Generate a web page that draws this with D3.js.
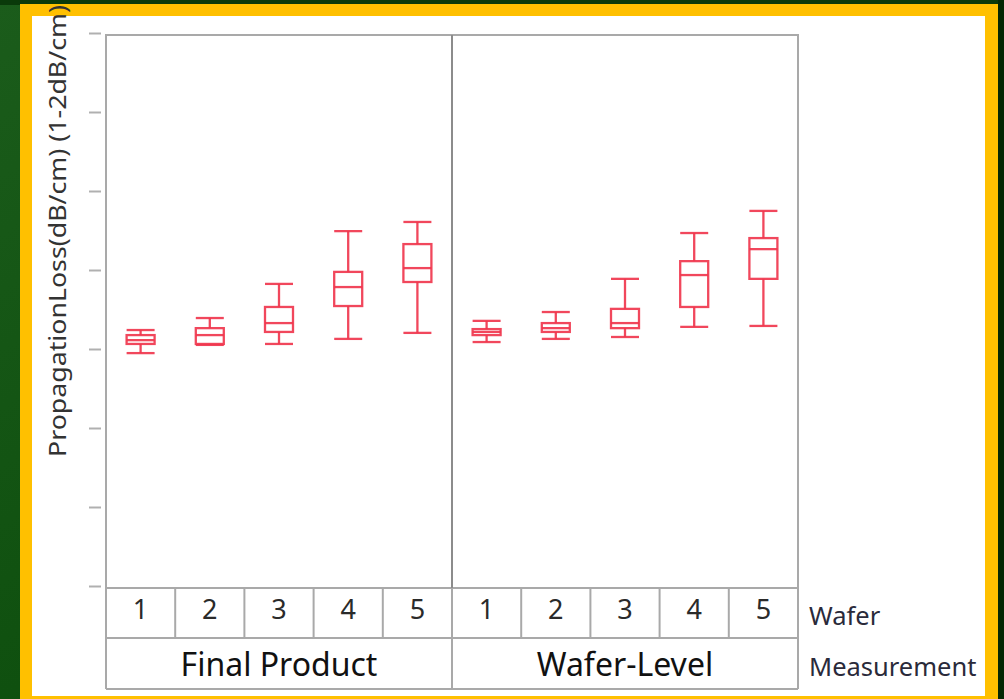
<!DOCTYPE html>
<html>
<head>
<meta charset="utf-8">
<script src="https://cdn.jsdelivr.net/npm/d3@7"></script>
<style>
  html, body { margin: 0; padding: 0; background: #0c440c; }
  svg { display: block; }
  text { font-family: "Noto Sans", "Open Sans", sans-serif; }
</style>
</head>
<body>
<svg id="chart" width="1004" height="699"></svg>
<script>
// Grouping levels on the x axis
const measurements = ["Final Product", "Wafer-Level"];
const wafers = ["1", "2", "3", "4", "5"];

// Five-number summaries per wafer: [min, Q1, median, Q3, max] in dB/cm
const finalProductStats = [
  [1.237, 1.266, 1.278, 1.294, 1.310],
  [1.263, 1.266, 1.294, 1.316, 1.348],
  [1.266, 1.304, 1.332, 1.383, 1.456],
  [1.282, 1.386, 1.446, 1.494, 1.623],
  [1.301, 1.462, 1.506, 1.582, 1.652]
];
const waferLevelStats = [
  [1.272, 1.294, 1.304, 1.313, 1.339],
  [1.282, 1.304, 1.316, 1.332, 1.367],
  [1.288, 1.316, 1.332, 1.377, 1.472],
  [1.320, 1.383, 1.484, 1.528, 1.617],
  [1.323, 1.472, 1.566, 1.601, 1.687]
];

// Unlabelled y-axis ticks
const yTicks = [0.5, 0.75, 1.0, 1.25, 1.5, 1.75, 2.0, 2.25];

const svg = d3.select("#chart");
const W = 1004, H = 699;

// Slide background: dark green field with a yellow frame around a white panel
const defs = svg.append("defs");
const grad = defs.append("linearGradient").attr("id", "bg").attr("x1", "0").attr("x2", "1").attr("y1", "0").attr("y2", "1");
grad.append("stop").attr("offset", "0").attr("stop-color", "#1b5c1b");
grad.append("stop").attr("offset", "0.5").attr("stop-color", "#0f500f");
grad.append("stop").attr("offset", "1").attr("stop-color", "#043004");
svg.append("rect").attr("width", W).attr("height", H).attr("fill", "url(#bg)");
svg.append("rect").attr("x", 0).attr("y", 0).attr("width", W).attr("height", 5).attr("fill", "#0a3a0a");
svg.append("rect").attr("x", 998).attr("y", 0).attr("width", 6).attr("height", H).attr("fill", "#032703");
svg.append("rect").attr("x", 20).attr("y", 4).attr("width", 978).attr("height", 700).attr("fill", "#ffc000");
svg.append("rect").attr("x", 32).attr("y", 16).attr("width", 953).attr("height", 680).attr("fill", "#ffffff");

// Plot geometry
const plotLeft = 106, plotRight = 798, plotTop = 35, plotBottom = 588;
const waferRowBottom = 638, measRowBottom = 689;
const frameColor = "#a9a9a9";

const xOuter = d3.scaleBand().domain(measurements).range([plotLeft, plotRight]).padding(0);
const xInner = d3.scaleBand().domain(wafers).range([0, xOuter.bandwidth()]).padding(0);
const y = d3.scaleLinear().domain([0.5, 2.25]).range([586, 33]);

// Y axis ticks (no labels)
const yAxis = svg.append("g")
  .attr("transform", `translate(101,0)`)
  .call(d3.axisLeft(y).tickValues(yTicks).tickFormat("").tickSize(12).tickSizeOuter(0));
yAxis.select(".domain").remove();
yAxis.selectAll(".tick line").attr("stroke", "#b0b0b0").attr("stroke-width", 2);

// Plot frame and panel divider
svg.append("rect")
  .attr("x", plotLeft).attr("y", plotTop)
  .attr("width", plotRight - plotLeft).attr("height", plotBottom - plotTop)
  .attr("fill", "none").attr("stroke", frameColor).attr("stroke-width", 2);
svg.append("line")
  .attr("x1", xOuter("Wafer-Level")).attr("x2", xOuter("Wafer-Level"))
  .attr("y1", plotTop).attr("y2", plotBottom)
  .attr("stroke", "#8c8c8c").attr("stroke-width", 2);

// Box plots
const boxColor = "#f0374e";
const boxW = 28;
const series = [
  { name: "Final Product", stats: finalProductStats },
  { name: "Wafer-Level", stats: waferLevelStats }
];
series.forEach(s => {
  const g = svg.append("g").attr("transform", `translate(${xOuter(s.name)},0)`);
  const boxes = g.selectAll("g.box").data(s.stats.map((d, i) => ({ wafer: wafers[i], v: d })))
    .join("g").attr("class", "box")
    .attr("transform", d => `translate(${xInner(d.wafer) + xInner.bandwidth() / 2},0)`);
  boxes.each(function(d) {
    const b = d3.select(this);
    const [mn, q1, md, q3, mx] = d.v;
    const st = sel => sel.attr("stroke", boxColor).attr("stroke-width", 2.3).attr("fill", "none").attr("stroke-opacity", 0.92);
    // whiskers
    b.append("line").attr("x1", 0).attr("x2", 0).attr("y1", y(mx)).attr("y2", y(q3)).call(st);
    b.append("line").attr("x1", 0).attr("x2", 0).attr("y1", y(q1)).attr("y2", y(mn)).call(st);
    // caps
    b.append("line").attr("x1", -boxW / 2).attr("x2", boxW / 2).attr("y1", y(mx)).attr("y2", y(mx)).call(st);
    b.append("line").attr("x1", -boxW / 2).attr("x2", boxW / 2).attr("y1", y(mn)).attr("y2", y(mn)).call(st);
    // box and median
    b.append("rect").attr("x", -boxW / 2).attr("width", boxW)
      .attr("y", y(q3)).attr("height", y(q1) - y(q3)).call(st);
    b.append("line").attr("x1", -boxW / 2).attr("x2", boxW / 2).attr("y1", y(md)).attr("y2", y(md)).call(st);
  });
});

// Category table under the plot
const tbl = svg.append("g");
const hl = (yy) => tbl.append("line").attr("x1", plotLeft).attr("x2", plotRight).attr("y1", yy).attr("y2", yy)
  .attr("stroke", frameColor).attr("stroke-width", 2);
hl(waferRowBottom); hl(measRowBottom);
tbl.append("line").attr("x1", plotLeft).attr("x2", plotLeft).attr("y1", plotBottom).attr("y2", measRowBottom)
  .attr("stroke", frameColor).attr("stroke-width", 2);
tbl.append("line").attr("x1", plotRight).attr("x2", plotRight).attr("y1", plotBottom).attr("y2", measRowBottom)
  .attr("stroke", frameColor).attr("stroke-width", 2);
measurements.forEach(m => {
  const x0 = xOuter(m);
  if (m !== measurements[0]) {
    tbl.append("line").attr("x1", x0).attr("x2", x0).attr("y1", plotBottom).attr("y2", measRowBottom)
      .attr("stroke", frameColor).attr("stroke-width", 2);
  }
  wafers.forEach((w, i) => {
    if (i > 0) {
      tbl.append("line").attr("x1", x0 + xInner(w)).attr("x2", x0 + xInner(w))
        .attr("y1", plotBottom).attr("y2", waferRowBottom)
        .attr("stroke", frameColor).attr("stroke-width", 2);
    }
    tbl.append("text")
      .attr("x", x0 + xInner(w) + xInner.bandwidth() / 2)
      .attr("y", 619)
      .attr("text-anchor", "middle")
      .attr("font-size", 27)
      .attr("fill", "#2a2a2a")
      .text(w);
  });
  tbl.append("text")
    .attr("x", x0 + xOuter.bandwidth() / 2)
    .attr("y", 676)
    .attr("text-anchor", "middle")
    .attr("font-size", 32)
    .attr("fill", "#111")
    .text(m);
});

// Row titles on the right
svg.append("text").attr("x", 809).attr("y", 625).attr("font-size", 25.5).attr("fill", "#2a2a3a").text("Wafer");
svg.append("text").attr("x", 809).attr("y", 676).attr("font-size", 25.5).attr("fill", "#2a2a3a").text("Measurement");

// Y axis title
svg.append("text")
  .attr("transform", "translate(66,457) rotate(-90)")
  .attr("font-size", 23)
  .attr("fill", "#333")
  .attr("textLength", 452)
  .attr("lengthAdjust", "spacingAndGlyphs")
  .text("PropagationLoss(dB/cm) (1-2dB/cm)");
</script>
</body>
</html>
